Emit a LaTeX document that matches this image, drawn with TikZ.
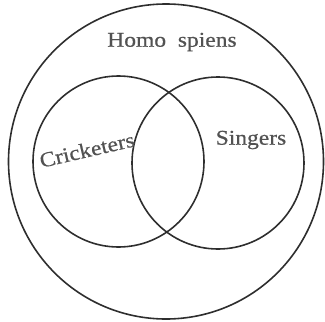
\documentclass[tikz,border=0pt]{standalone}
\usepackage{fontspec}
\setmainfont{Liberation Serif}[FakeStretch=1.12,FakeBold=0.6]
\begin{document}
\begin{tikzpicture}[x=1pt,y=-1pt,
  ring/.style={draw=black!82,line width=1.6pt},
  lbl/.style={text=black!68,font=\fontsize{21}{24}\selectfont,inner sep=0pt}]
\useasboundingbox (0,0) rectangle (325,322);
\node[ring,circle,minimum size=315pt,inner sep=0pt] (hs) at (166,161.5) {};
\node[ring,circle,minimum size=171pt,inner sep=0pt] (cr) at (118.5,161.5) {};
\node[ring,circle,minimum size=172pt,inner sep=0pt] (sg) at (218,163) {};
\node[lbl] (ths) at (172,42) {Homo\ \ spiens};
\node[lbl,rotate=13] (tcr) at (87,150) {Cricketers};
\node[lbl] (tsg) at (251,140) {Singers};
\end{tikzpicture}
\end{document}
